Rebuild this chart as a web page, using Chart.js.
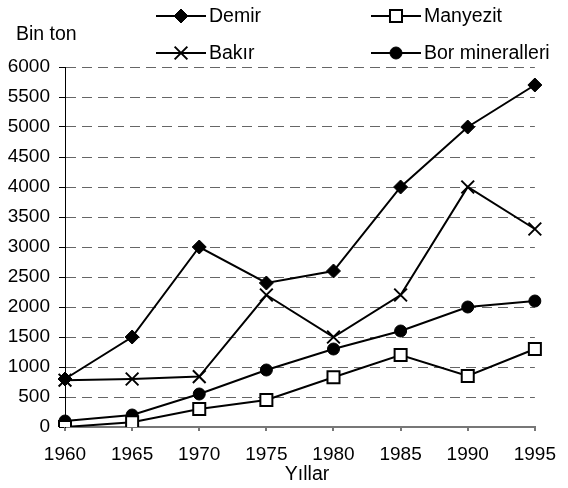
<!DOCTYPE html>
<html>
<head>
<meta charset="utf-8">
<script src="https://cdn.jsdelivr.net/npm/chart.js@4"></script>
<style>
  html, body { margin: 0; padding: 0; background: #fff; }
  #wrap { width: 568px; height: 488px; }
</style>
</head>
<body>
<div id="wrap"><canvas id="lineChart" width="568" height="488"></canvas></div>
<script>
const years = ['1960', '1965', '1970', '1975', '1980', '1985', '1990', '1995'];
const demir = [800, 1500, 3000, 2400, 2600, 4000, 5000, 5700];
const bakir = [780, 800, 840, 2200, 1500, 2200, 4000, 3300];
const manyezit = [0, 80, 300, 450, 830, 1200, 850, 1300];
const bor = [100, 200, 550, 950, 1300, 1600, 2000, 2100];
const yTicks = [0, 500, 1000, 1500, 2000, 2500, 3000, 3500, 4000, 4500, 5000, 5500, 6000];

const FONT = 'Arial, "Liberation Sans", sans-serif';

// legend + axis captions drawn by hand (two rows, line-marker-line)
const extras = {
    id: 'extras',
    afterDraw(chart) {
        const c = chart.ctx;
        c.save();
        c.font = '19.5px ' + FONT;
        c.fillStyle = '#000';
        c.textBaseline = 'middle';
        c.textAlign = 'left';
        c.fillText('Bin ton', 16, 35);
        c.textAlign = 'center';
        c.fillText('Yıllar', 307, 475);

        const slots = [
            { ds: 0, x: 156, y: 16 },
            { ds: 2, x: 371, y: 16 },
            { ds: 1, x: 156, y: 53 },
            { ds: 3, x: 371, y: 53 }
        ];
        slots.forEach(s => {
            const d = chart.data.datasets[s.ds];
            c.strokeStyle = '#000';
            c.lineWidth = 2;
            c.beginPath();
            c.moveTo(s.x, s.y);
            c.lineTo(s.x + 50, s.y);
            c.stroke();
            c.fillStyle = d.pointBackgroundColor;
            c.lineWidth = d.pointBorderWidth;
            Chart.helpers.drawPoint(c, {
                pointStyle: d.pointStyle,
                radius: d.pointRadius,
                borderWidth: d.pointBorderWidth
            }, s.x + 25, s.y);
            c.fillStyle = '#000';
            c.textAlign = 'left';
            c.fillText(d.label, s.x + 53, s.y + 1);
        });
        c.restore();
    }
};

function series(label, data, style, radius, fill, bw) {
    return {
        label: label,
        data: data,
        borderColor: '#000',
        borderWidth: 2,
        pointStyle: style,
        pointRadius: radius,
        pointBackgroundColor: fill,
        pointBorderColor: '#000',
        pointBorderWidth: bw,
        tension: 0
    };
}

new Chart(document.getElementById('lineChart'), {
    type: 'line',
    data: {
        labels: years,
        datasets: [
            series('Demir', demir, 'rectRot', 7, '#000', 1),
            series('Bakır', bakir, 'crossRot', 9, '#000', 2),
            series('Manyezit', manyezit, 'rect', 8.5, '#fff', 2),
            series('Bor mineralleri', bor, 'circle', 6, '#000', 1)
        ]
    },
    options: {
        responsive: false,
        animation: false,
        layout: { padding: { top: 67, right: 23, left: 0, bottom: 0 } },
        plugins: { legend: { display: false }, tooltip: { enabled: false } },
        scales: {
            x: {
                offset: false,
                afterFit: s => { s.height = 61; },
                grid: { drawOnChartArea: false, tickLength: 4, color: '#777', tickColor: '#777', lineWidth: 2 },
                border: { color: '#777', width: 2 },
                ticks: { color: '#000', font: { size: 19, family: FONT }, padding: 12, maxRotation: 0, autoSkip: false }
            },
            y: {
                min: 0,
                max: 6000,
                afterFit: s => { s.width = 65; },
                afterBuildTicks: s => { s.ticks = yTicks.map(v => ({ value: v })); },
                grid: { color: '#666', lineWidth: 1, tickLength: 6, tickColor: '#000', tickBorderDash: [] },
                border: { color: '#000', width: 1, dash: [10, 6] },
                ticks: {
                    color: '#000',
                    font: { size: 19, family: FONT },
                    padding: 9,
                    callback: v => String(v)
                }
            }
        }
    },
    plugins: [extras]
});
</script>
</body>
</html>
